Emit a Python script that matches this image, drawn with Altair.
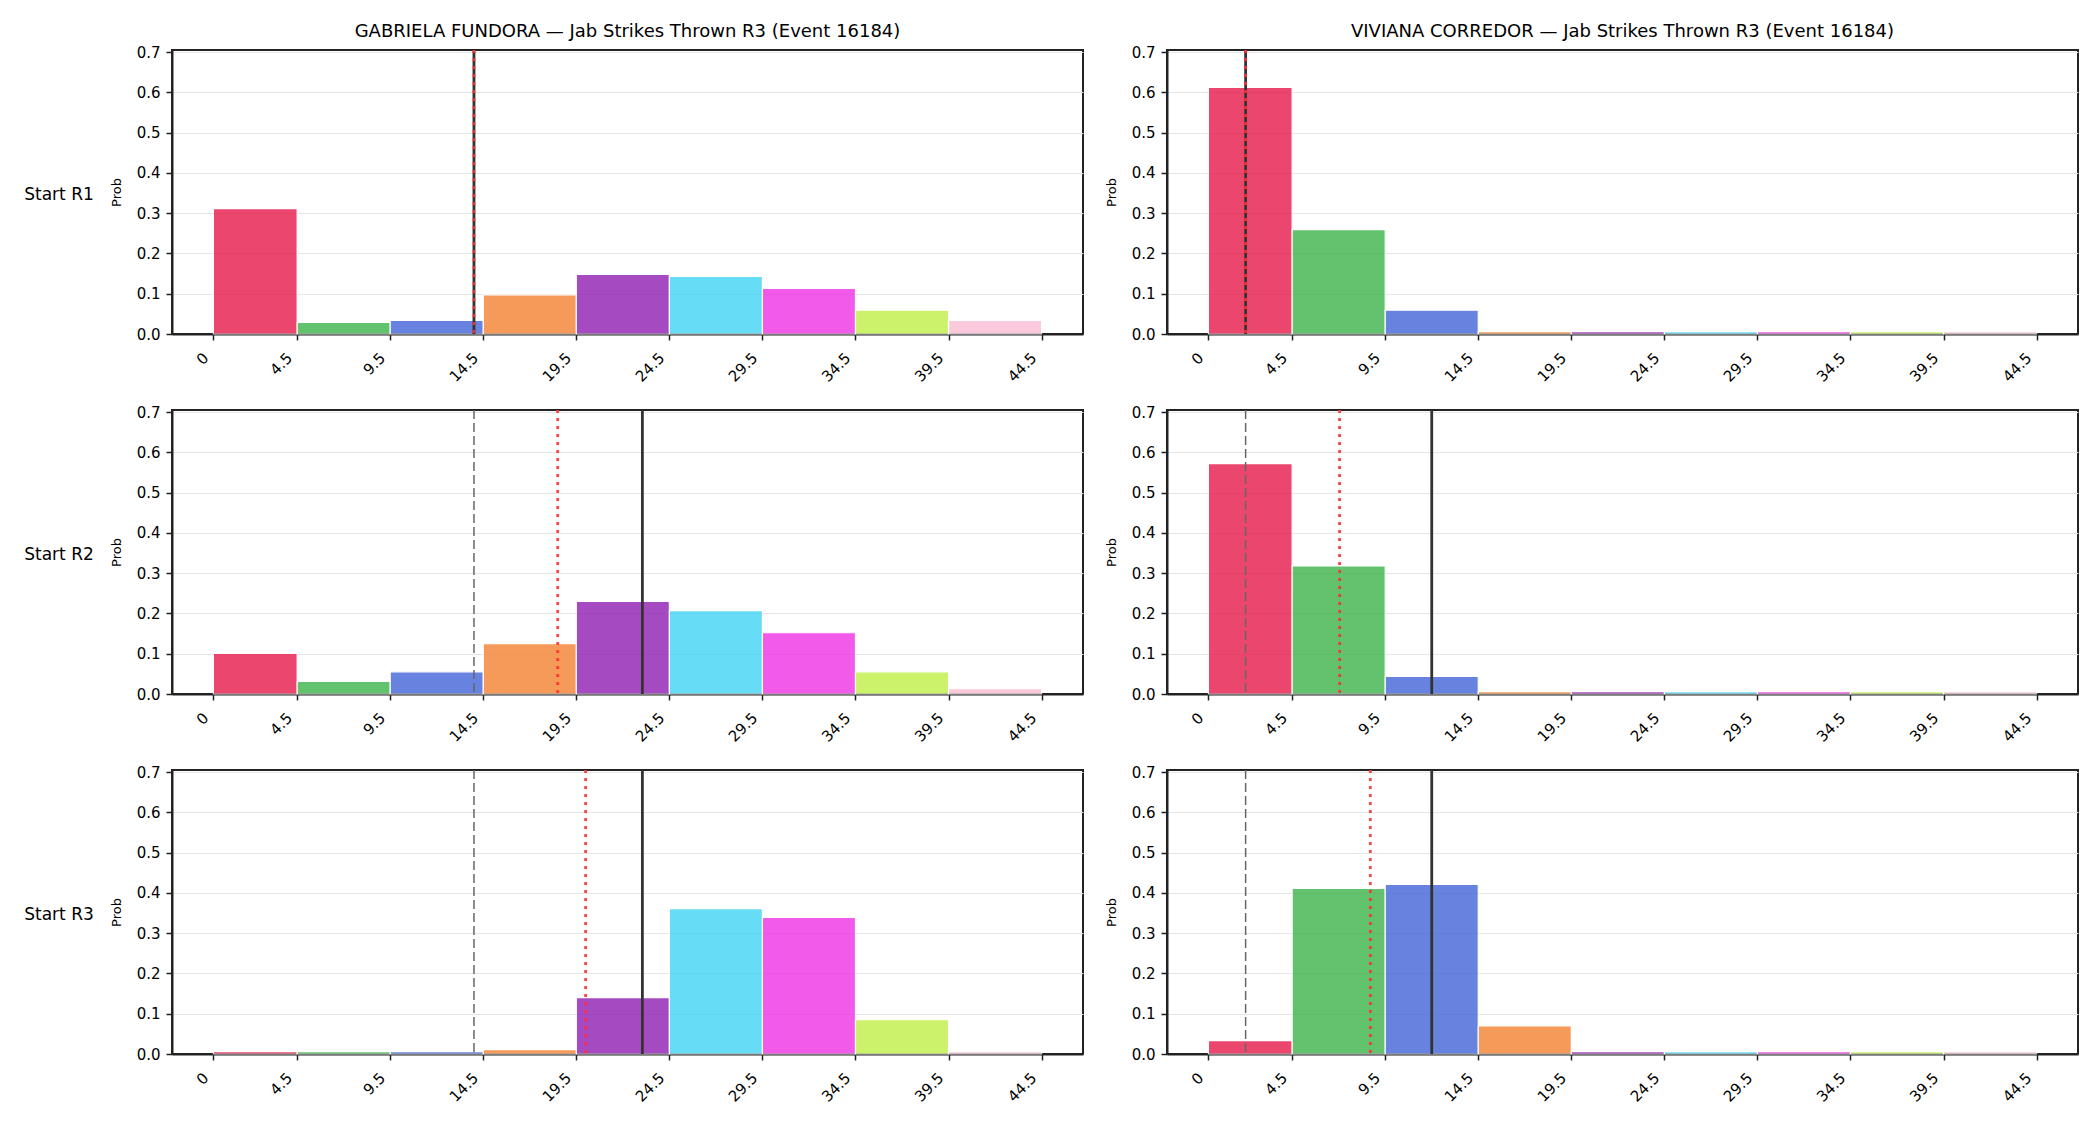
import altair as alt
import pandas as pd

# Bin edges of the jab-count histogram (first bin is 0-4.5, the rest are 5 wide)
bin_edges = [0, 4.5, 9.5, 14.5, 19.5, 24.5, 29.5, 34.5, 39.5, 44.5]
bin_colors = ["#e6194b", "#3cb44b", "#4363d8", "#f58231", "#911eb4",
              "#42d4f4", "#f032e6", "#bfef45", "#fabed4"]

fighters = ["GABRIELA FUNDORA", "VIVIANA CORREDOR"]
row_labels = ["Start R1", "Start R2", "Start R3"]

# Probability per bin, one list per fighter and starting round
gabriela_r1 = [0.311, 0.029, 0.034, 0.097, 0.148, 0.143, 0.113, 0.059, 0.034]
gabriela_r2 = [0.101, 0.031, 0.055, 0.125, 0.230, 0.207, 0.152, 0.055, 0.013]
gabriela_r3 = [0.006, 0.006, 0.006, 0.011, 0.140, 0.361, 0.339, 0.085, 0.006]
viviana_r1 = [0.612, 0.259, 0.059, 0.006, 0.006, 0.006, 0.006, 0.006, 0.006]
viviana_r2 = [0.572, 0.318, 0.044, 0.006, 0.006, 0.006, 0.006, 0.006, 0.006]
viviana_r3 = [0.033, 0.411, 0.421, 0.070, 0.006, 0.006, 0.006, 0.006, 0.006]

# Reference lines: pre-fight expectation (dashed), current expectation (dotted),
# and the solid marker line
gabriela_prior = [14.0, 14.0, 14.0]
gabriela_mean = [14.0, 18.5, 20.0]
gabriela_marker = [14.0, 23.05, 23.05]
viviana_prior = [2.0, 2.0, 2.0]
viviana_mean = [2.0, 7.05, 8.7]
viviana_marker = [2.0, 12.0, 12.0]

probs = {
    "GABRIELA FUNDORA": [gabriela_r1, gabriela_r2, gabriela_r3],
    "VIVIANA CORREDOR": [viviana_r1, viviana_r2, viviana_r3],
}
lines = {
    "GABRIELA FUNDORA": (gabriela_prior, gabriela_mean, gabriela_marker),
    "VIVIANA CORREDOR": (viviana_prior, viviana_mean, viviana_marker),
}

W, H = 911, 284
bin_ids = [str(i) for i in range(len(bin_edges) - 1)]
x_scale = alt.Scale(domain=[-2.225, 46.725], nice=False, zero=False)
y_scale = alt.Scale(domain=[0, 0.705], nice=False, zero=True)

# Rotated labels sit below and to the left of their tick
x_axis = alt.Axis(
    values=bin_edges, labelAngle=-45, grid=False, title=None,
    labelExpr="datum.value == 0 ? '0' : format(datum.value, '.1f')",
    labelAlign="right", labelBaseline="middle", labelPadding=15, labelOffset=-8,
)
y_axis = alt.Axis(
    values=[0, 0.1, 0.2, 0.3, 0.4, 0.5, 0.6, 0.7], format=".1f", grid=True,
    title="Prob", titleFontSize=13, titleFontWeight="normal", titlePadding=13,
)


def panel(fighter, ri):
    df = pd.DataFrame({
        "lo": bin_edges[:-1],
        "hi": bin_edges[1:],
        "prob": probs[fighter][ri],
        "bin": bin_ids,
    })
    bars = alt.Chart(df).mark_bar(opacity=0.8, stroke="white", strokeWidth=1.2).encode(
        x=alt.X("lo:Q", scale=x_scale, axis=x_axis, title=None),
        x2="hi:Q",
        y=alt.Y("prob:Q", scale=y_scale, axis=y_axis, stack=None),
        y2=alt.datum(0),
        color=alt.Color("bin:N", scale=alt.Scale(domain=bin_ids, range=bin_colors), legend=None),
    )
    prior, mean, marker = lines[fighter]
    prior_rule = alt.Chart(pd.DataFrame({"v": [prior[ri]]})).mark_rule(
        color="#666666", strokeWidth=1.5, strokeDash=[9, 4]
    ).encode(x=alt.X("v:Q", scale=x_scale, axis=x_axis, title=None))
    marker_rule = alt.Chart(pd.DataFrame({"v": [marker[ri]]})).mark_rule(
        color="#333333", strokeWidth=2.8
    ).encode(x=alt.X("v:Q", scale=x_scale, axis=x_axis, title=None))
    mean_rule = alt.Chart(pd.DataFrame({"v": [mean[ri]]})).mark_rule(
        color="#ff3030", strokeWidth=2.8, strokeDash=[3, 5], opacity=0.9
    ).encode(x=alt.X("v:Q", scale=x_scale, axis=x_axis, title=None))

    layers = [bars, prior_rule, marker_rule, mean_rule]
    if fighter == fighters[0]:
        label = alt.Chart(pd.DataFrame({"t": [row_labels[ri]]})).mark_text(
            fontSize=17, align="center", baseline="middle", color="black"
        ).encode(text="t:N", x=alt.value(-113), y=alt.value(H / 2 + 3))
        layers.append(label)

    props = dict(width=W, height=H)
    if ri == 0:
        props["title"] = alt.TitleParams(
            f"{fighter} — Jab Strikes Thrown R3 (Event 16184)",
            fontSize=18, fontWeight="normal", offset=4, color="black",
        )
    return alt.layer(*layers).properties(**props)


panels = [panel(f, ri) for ri in range(3) for f in fighters]

chart = alt.concat(
    *panels, columns=2, spacing={"row": 76, "column": 84}, bounds="flush"
).properties(
    padding={"left": 23, "top": 22, "right": 10, "bottom": 10},
    background="white",
).configure_view(
    stroke="#222222", strokeWidth=2
).configure_axis(
    labelFont="DejaVu Sans", titleFont="DejaVu Sans", labelFontSize=15,
    labelColor="black", titleColor="black", tickColor="#222222",
    domainColor="#222222", domainWidth=2, tickWidth=1.5, tickSize=6,
    labelPadding=6, gridColor="#e6e6e6", gridWidth=1.2,
).configure_title(
    font="DejaVu Sans"
).configure_text(
    font="DejaVu Sans"
)

chart.save("out.html", embed_options={"renderer": "svg", "actions": False})
